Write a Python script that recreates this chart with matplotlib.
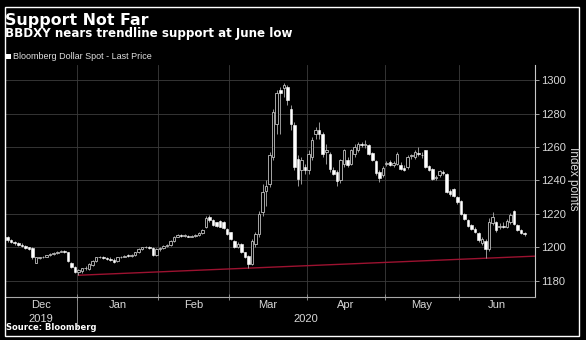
import matplotlib
matplotlib.use('Agg')
import matplotlib.pyplot as plt
import matplotlib.transforms as mtransforms
from matplotlib.patches import Rectangle
import pandas as pd
import numpy as np

# Bloomberg Dollar Spot daily candles, Dec 3 2019 - Jun 25 2020 (weekdays)
dates = pd.bdate_range('2019-12-03', '2020-06-25')

opens = [1209, 1206, 1204.5, 1203, 1202.5, 1201.5, 1201, 1200, 1199.5, 1191,
         1193.5, 1194, 1194.5, 1195.5, 1196, 1196.5, 1197.5, 1198, 1197, 1191,
         1188.5, 1185.5, 1186, 1187.5, 1187, 1189.5, 1192, 1194, 1194.5, 1193.5,
         1193, 1192.5, 1192, 1194, 1194.5, 1195.5, 1195, 1195.5, 1197, 1199,
         1200, 1200.5, 1199.5, 1195.5, 1199, 1199.5, 1201, 1201.5, 1204, 1206.5,
         1207.5, 1207, 1207, 1206.5, 1207, 1207.5, 1208.5, 1212, 1218, 1216.5,
         1215, 1216, 1215.5, 1211, 1209, 1204, 1200, 1202, 1197, 1195,
         1190, 1202, 1208, 1221, 1234, 1238, 1254, 1274, 1294, 1295.5,
         1296, 1283, 1273, 1253, 1246, 1248, 1246, 1254, 1268, 1270,
         1268, 1257, 1256, 1246, 1245, 1240, 1250, 1252.5, 1250, 1256,
         1258, 1262, 1261, 1261.5, 1256.5, 1251.5, 1245, 1243.5, 1250, 1251,
         1249.5, 1250, 1249.5, 1247.5, 1248, 1254.5, 1254, 1256.5, 1255.5, 1258,
         1248.5, 1247, 1241.5, 1243, 1245, 1244, 1234, 1235, 1230, 1228,
         1220, 1216.5, 1213.5, 1211, 1208.5, 1202.5, 1204, 1199, 1214.5, 1215,
         1212, 1213, 1212.5, 1215, 1221.5, 1213.5, 1210.5, 1208.5]
highs = [1210, 1207, 1205, 1204, 1203, 1202.5, 1201.5, 1200.5, 1200, 1194.5,
         1194.5, 1195, 1195.5, 1196.5, 1197, 1198, 1198.5, 1198.5, 1197.5, 1191.5,
         1189, 1187, 1188, 1189, 1190.5, 1192.5, 1194.5, 1195, 1195, 1194,
         1194, 1193.5, 1194.5, 1195, 1195.5, 1196, 1196, 1197.5, 1199.5, 1200.5,
         1201, 1201, 1200, 1199.5, 1200, 1201.5, 1202, 1204.5, 1207, 1208,
         1208, 1208, 1207.5, 1207.5, 1208, 1209, 1211, 1219, 1219.5, 1217,
         1215.5, 1216.5, 1216, 1211.5, 1209.5, 1204.5, 1203, 1202.5, 1197.5, 1195.5,
         1205, 1209, 1222, 1238, 1240, 1257, 1283, 1294, 1296, 1298.5,
         1297, 1285, 1275, 1255, 1254, 1250, 1258, 1266, 1272, 1275,
         1269, 1262, 1257, 1248, 1246, 1253, 1259, 1254, 1259, 1262,
         1263, 1263, 1264, 1262, 1257, 1252, 1246, 1248.5, 1251.5, 1252,
         1251.5, 1257, 1251, 1249, 1255, 1256, 1258, 1260, 1257, 1258.5,
         1249, 1247.5, 1243, 1246.5, 1246, 1244.5, 1235, 1235.5, 1230.5, 1228.5,
         1220.5, 1217, 1214, 1212, 1209, 1206, 1205, 1217.5, 1221, 1216,
         1214.5, 1215, 1217, 1220.5, 1222.5, 1214, 1211, 1209.5]
lows = [1205, 1203.5, 1202.5, 1201.5, 1201, 1200.5, 1199, 1198.5, 1193, 1190.5,
        1193, 1193.5, 1194, 1195, 1195.5, 1196, 1197, 1196.5, 1191.5, 1187.5,
        1185, 1183.4, 1185, 1186.5, 1186.5, 1189, 1191.5, 1193.5, 1193, 1192.5,
        1192, 1191, 1191.5, 1193.5, 1194, 1194.5, 1194.5, 1195, 1196.5, 1198.5,
        1199.5, 1199, 1195, 1195, 1198, 1199, 1200.5, 1201, 1203.5, 1206,
        1206.5, 1206, 1206, 1206, 1206.5, 1207, 1208, 1211.5, 1215, 1213,
        1212.5, 1212, 1211, 1207.5, 1204.5, 1199.5, 1199.5, 1196.5, 1193.5, 1187.8,
        1189.5, 1200.5, 1206, 1219, 1225, 1236, 1252, 1268, 1268, 1290,
        1285, 1270, 1246, 1237, 1238, 1244, 1244, 1252, 1265, 1265,
        1254, 1250, 1245, 1243, 1237, 1238.5, 1248, 1248, 1249, 1254,
        1257, 1260, 1259.5, 1255.5, 1251.5, 1243.5, 1239, 1242, 1248.5, 1248.5,
        1248, 1249, 1246, 1245.5, 1247, 1253, 1253, 1254.5, 1253.5, 1247.5,
        1245.5, 1240.5, 1240, 1242, 1243.5, 1232.5, 1231, 1230, 1226, 1219.5,
        1216.5, 1212.5, 1210.5, 1208.5, 1203.5, 1201.5, 1193.6, 1198, 1213.5, 1209.5,
        1211, 1211.5, 1211.5, 1214, 1213.5, 1210, 1208, 1207]
closes = [1206, 1204.5, 1203, 1202.5, 1201.5, 1201, 1199.5, 1199, 1194, 1194,
          1194, 1194.5, 1195.5, 1196, 1196.5, 1197.5, 1198, 1197, 1192, 1188.5,
          1185.5, 1186.5, 1187.5, 1188, 1190, 1192, 1194, 1194.5, 1193.5, 1193,
          1192.5, 1191.5, 1194, 1194.5, 1195, 1195, 1195.5, 1197, 1199, 1200,
          1200.5, 1199.5, 1195.5, 1199, 1199.5, 1201, 1201.5, 1204, 1206.5, 1207.5,
          1207, 1207, 1206.5, 1207, 1207.5, 1208.5, 1210.5, 1217.5, 1216.5, 1213.5,
          1213, 1212.5, 1211.5, 1208, 1205, 1200, 1202, 1197, 1194, 1190,
          1204, 1208, 1220, 1233, 1237, 1255, 1281, 1292, 1292.5, 1297,
          1288, 1274, 1248, 1241, 1252, 1246.5, 1256, 1264, 1270, 1268,
          1256, 1258, 1247, 1244, 1239.5, 1252, 1258, 1249, 1258, 1260,
          1262, 1261.5, 1262, 1256, 1252, 1244.5, 1241.5, 1247.5, 1250.5, 1249.5,
          1250.5, 1256, 1247, 1246.5, 1254, 1255, 1257, 1256, 1255, 1248,
          1246, 1241, 1242, 1245.5, 1244.5, 1233, 1232, 1230.5, 1227, 1220,
          1217, 1213, 1211, 1209, 1204.5, 1205, 1199, 1215, 1218, 1210.5,
          1213, 1212.5, 1216, 1219.5, 1214, 1210.5, 1208.5, 1208]

# trendline from the Dec/Jan low to the right edge
trend_start = ('2020-01-01', 1183.4)
trend_end_value = 1194.8

month_names = ['Dec', 'Jan', 'Feb', 'Mar', 'Apr', 'May', 'Jun']
y_ticks = [1180, 1200, 1220, 1240, 1260, 1280, 1300]

narrow = 'Liberation Sans'

fig = plt.figure(figsize=(5.86, 3.40), dpi=100, facecolor='black')
ax = fig.add_axes([4.7 / 586, 43 / 340, 530.3 / 586, 232 / 340])
ax.set_facecolor('black')

x = np.arange(len(dates))
o = np.array(opens)
h = np.array(highs)
l = np.array(lows)
c = np.array(closes)
up = c >= o

# wicks
ax.vlines(x, l, h, color='#b0b0b0', lw=0.6, zorder=3)
# bodies
body = np.maximum(np.abs(c - o), 0.5)
bottom = np.minimum(o, c)
ax.bar(x[up], body[up], bottom=bottom[up], width=0.72,
       facecolor='black', edgecolor='#c0c0c0', lw=0.6, zorder=4)
ax.bar(x[~up], body[~up], bottom=bottom[~up], width=0.72,
       facecolor='white', edgecolor='white', lw=0.4, zorder=4)

# month boundaries and mid points
month_id = dates.year * 12 + dates.month
starts = [i for i in range(1, len(dates)) if month_id[i] != month_id[i - 1]]
bounds = [s - 0.5 for s in starts]
xmin, xmax = 0.16, 149.96
edges = [xmin] + bounds + [xmax]
mids = [(edges[k] + edges[k + 1]) / 2 for k in range(len(edges) - 1)]

# trendline
t0 = list(dates).index(pd.Timestamp(trend_start[0]))
ax.plot([t0, xmax], [trend_start[1], trend_end_value], color='#9c1230', lw=1.0, zorder=2)

ax.set_xlim(xmin, xmax)
ax.set_ylim(1170.4, 1309)

ax.set_xticks(bounds)
ax.set_xticklabels([])
ax.set_xticks(mids, minor=True)
ax.set_xticklabels(month_names, minor=True, color='#d8d8d8', family=narrow, fontsize=8)
ax.tick_params(axis='x', which='major', direction='inout', length=4, color='#9a9a9a', width=0.6)
ax.tick_params(axis='x', which='minor', length=0, pad=2)

ax.yaxis.tick_right()
ax.set_yticks(y_ticks)
ax.set_yticklabels([str(v) for v in y_ticks], color='#d8d8d8', family=narrow, fontsize=8)
ax.tick_params(axis='y', direction='out', length=3, color='#bbbbbb', width=0.6, pad=1.5)

ax.grid(True, which='major', color='#3c3c3c', lw=0.6, zorder=0)
for s in ['top', 'left']:
    ax.spines[s].set_visible(False)
ax.spines['bottom'].set_color('#a8a8a8')
ax.spines['right'].set_color('#c8c8c8')
ax.spines['bottom'].set_linewidth(0.8)
ax.spines['right'].set_linewidth(0.8)

# year labels and separator
trans = mtransforms.blended_transform_factory(ax.transData, ax.transAxes)
ax.text(mids[0], -0.108, '2019', transform=trans, ha='center', va='baseline',
        color='#d8d8d8', family=narrow, fontsize=8)
ax.text((bounds[0] + xmax) / 2, -0.108, '2020', transform=trans, ha='center', va='baseline',
        color='#d8d8d8', family=narrow, fontsize=8)
ax.plot([bounds[0], bounds[0]], [0, -0.129], transform=trans, color='#9a9a9a',
        lw=0.6, clip_on=False)

# titles and notes
fig.text(5 / 586, 1 - 25.5 / 340, 'Support Not Far', color='white', fontsize=11.4,
         fontweight='bold', va='baseline', ha='left')
fig.text(5 / 586, 1 - 37 / 340, 'BBDXY nears trendline support at June low', color='white',
         fontsize=8.6, fontweight='bold', va='baseline', ha='left')
fig.patches.append(Rectangle((6 / 586, 1 - 58.5 / 340), 4.5 / 586, 4.5 / 340,
                             transform=fig.transFigure, facecolor='white', edgecolor='none'))
fig.text(12.5 / 586, 1 - 59.3 / 340, 'Bloomberg Dollar Spot - Last Price', color='#e0e0e0',
         fontsize=6.5, family=narrow, va='baseline', ha='left')
fig.text(573 / 586, 1 - 179 / 340, 'Index points', color='#d8d8d8', fontsize=8.5,
         family=narrow, rotation=270, va='center', ha='center')
fig.text(6 / 586, 1 - 330.5 / 340, 'Source: Bloomberg', color='white', fontsize=6,
         fontweight='bold', va='baseline', ha='left')

# outer frame
fig.patches.append(Rectangle((4.5 / 586, 1 - 336 / 340), 574.5 / 586, 329 / 340,
                             transform=fig.transFigure, fill=False, edgecolor='white', lw=1))

fig.savefig('out.png', dpi=100, facecolor='black')
